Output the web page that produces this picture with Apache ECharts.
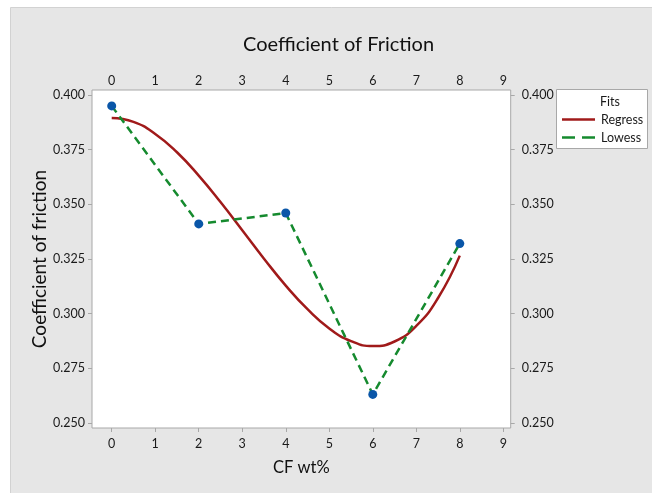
<!DOCTYPE html>
<html>
<head>
<meta charset="utf-8">
<script src="https://cdn.jsdelivr.net/npm/echarts@6/dist/echarts.min.js"></script>
<style>
html,body{margin:0;padding:0;background:#fff;}
#chart{width:652px;height:493px;}
</style>
</head>
<body>
<div id="chart"></div>
<script>
// Data
const xTicks = [0, 1, 2, 3, 4, 5, 6, 7, 8, 9];
const yTicks = [0.250, 0.275, 0.300, 0.325, 0.350, 0.375, 0.400];
const cfWt = [0, 2, 4, 6, 8];
const friction = [0.395, 0.341, 0.346, 0.263, 0.332];
const regressX = [0, 0.5, 1, 1.5, 2, 2.5, 3, 3.5, 4, 4.5, 5, 5.5, 6, 6.5, 7, 7.5, 8];
const regressY = [0.3895, 0.3877, 0.3822, 0.3738, 0.3631, 0.3510, 0.3381, 0.3251, 0.3128,
                  0.3020, 0.2932, 0.2874, 0.2851, 0.2872, 0.2943, 0.3071, 0.3265];
const lowessX = [0, 2, 4, 6, 8];
const lowessY = [0.395, 0.341, 0.346, 0.263, 0.332];
const legendNames = ['Regress', 'Lowess'];

const FONT = 'Lato';
const RED = '#a01a1a', GREEN = '#158a2e', BLUE = '#0a56a8';
const chart = echarts.init(document.getElementById('chart'), null, {renderer: 'canvas'});

const xMin = -0.453, xMax = 9.17;
const yMin = 0.24762, yMax = 0.40229;

const xAxisCommon = {
  type: 'value', min: xMin, max: xMax,
  splitLine: {show: false},
  axisLine: {show: false, onZero: false}
};
const yAxisCommon = {
  type: 'value', min: yMin, max: yMax,
  splitLine: {show: false},
  axisLine: {show: false, onZero: false}
};
const labelStyle = {color: '#1a1a1a', fontFamily: FONT, fontSize: 12.5};

chart.setOption({
  backgroundColor: '#ffffff',
  animation: false,
  graphic: [
    {type: 'rect', shape: {x: 10.5, y: 7.5, width: 660, height: 500},
     style: {fill: '#e6e6e6', stroke: '#d2d2d2', lineWidth: 1}, z: -10},
    {type: 'rect', shape: {x: 556.5, y: 89.5, width: 91, height: 59},
     style: {fill: '#ffffff', stroke: '#a8a8a8', lineWidth: 1}, z: 1},
    {type: 'text', x: 610, y: 102,
     style: {text: 'Fits', fill: '#1a1a1a', font: '12.5px ' + FONT, align: 'center', verticalAlign: 'middle'}, z: 2},
    {type: 'line', shape: {x1: 562, y1: 119.5, x2: 595, y2: 119.5},
     style: {stroke: RED, lineWidth: 2.5}, z: 2},
    {type: 'text', x: 601, y: 119.5,
     style: {text: legendNames[0], fill: '#1a1a1a', font: '12.5px ' + FONT, align: 'left', verticalAlign: 'middle'}, z: 2},
    {type: 'line', shape: {x1: 562, y1: 137.5, x2: 595, y2: 137.5},
     style: {stroke: GREEN, lineWidth: 2.5, lineDash: [13, 7]}, z: 2},
    {type: 'text', x: 601, y: 137.5,
     style: {text: legendNames[1], fill: '#1a1a1a', font: '12.5px ' + FONT, align: 'left', verticalAlign: 'middle'}, z: 2}
  ],
  title: {
    text: 'Coefficient of Friction',
    left: 238, top: 30,
    textStyle: {fontFamily: FONT, fontSize: 20, fontWeight: 'normal', color: '#111'}
  },
  grid: {
    left: 92, top: 90, width: 418.7, height: 338,
    show: true, backgroundColor: '#ffffff', borderColor: '#a8a8a8', borderWidth: 1
  },
  xAxis: [
    Object.assign({}, xAxisCommon, {
      position: 'bottom',
      name: 'CF wt%', nameLocation: 'middle', nameGap: 31, nameMoveOverlap: false,
      nameTextStyle: {fontFamily: FONT, fontSize: 16.5, color: '#111'},
      axisTick: {show: true, length: 4, inside: false, lineStyle: {color: '#a8a8a8'}, customValues: xTicks},
      axisLabel: Object.assign({}, labelStyle, {margin: 9, customValues: xTicks})
    }),
    Object.assign({}, xAxisCommon, {
      position: 'top',
      axisTick: {show: false, customValues: xTicks},
      axisLabel: Object.assign({}, labelStyle, {margin: 3, customValues: xTicks})
    })
  ],
  yAxis: [
    Object.assign({}, yAxisCommon, {
      position: 'left',
      name: 'Coefficient of friction', nameLocation: 'middle', nameGap: 43, nameMoveOverlap: false,
      nameTextStyle: {fontFamily: FONT, fontSize: 19, color: '#111'},
      axisTick: {show: true, length: 4, lineStyle: {color: '#a8a8a8'}, customValues: yTicks},
      axisLabel: Object.assign({}, labelStyle, {margin: 7, customValues: yTicks,
        formatter: v => v.toFixed(3)})
    }),
    Object.assign({}, yAxisCommon, {
      position: 'right',
      axisTick: {show: true, length: 4, lineStyle: {color: '#a8a8a8'}, customValues: yTicks},
      axisLabel: Object.assign({}, labelStyle, {margin: 11, customValues: yTicks,
        formatter: v => v.toFixed(3)})
    })
  ],
  series: [
    {
      name: 'Regress', type: 'line', xAxisIndex: 0, yAxisIndex: 0,
      data: regressX.map((x, i) => [x, regressY[i]]),
      smooth: true, symbol: 'none',
      lineStyle: {color: RED, width: 2.5},
      itemStyle: {color: RED}, z: 2
    },
    {
      name: 'Lowess', type: 'line', xAxisIndex: 0, yAxisIndex: 0,
      data: lowessX.map((x, i) => [x, lowessY[i]]),
      symbol: 'none',
      lineStyle: {color: GREEN, width: 2.5, type: [8, 5]},
      itemStyle: {color: GREEN}, z: 3
    },
    {
      name: 'Data', type: 'scatter', xAxisIndex: 0, yAxisIndex: 0,
      data: cfWt.map((x, i) => [x, friction[i]]),
      symbolSize: 9,
      itemStyle: {color: BLUE, opacity: 1}, z: 4
    }
  ]
});
</script>
</body>
</html>
